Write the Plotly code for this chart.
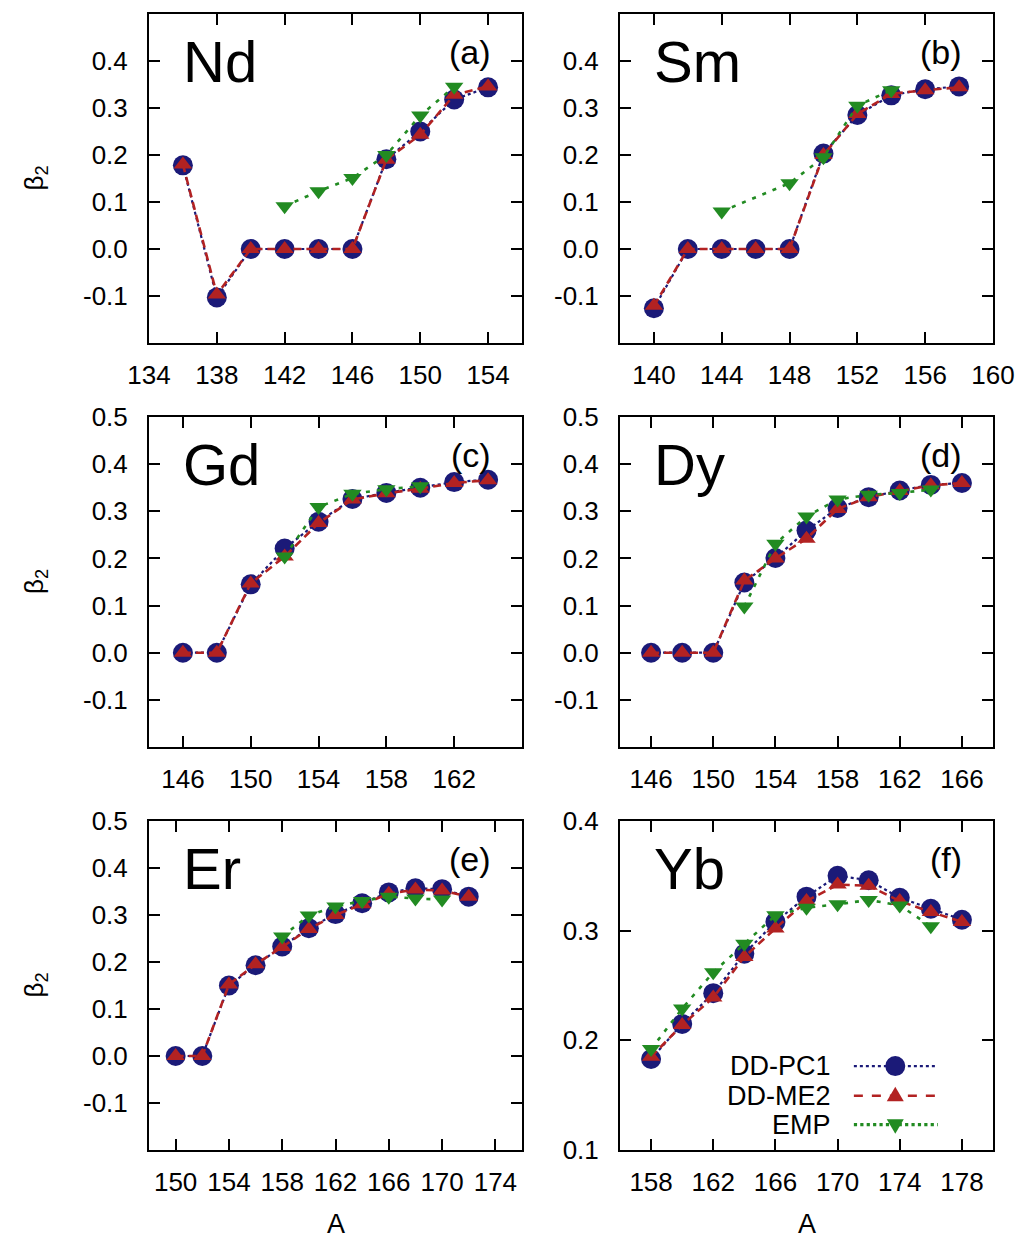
import plotly.graph_objects as go

# ---------------- data ----------------
nd_A = [136, 138, 140, 142, 144, 146, 148, 150, 152, 154]
nd_pc1 = [0.178, -0.103, 0.0, 0.0, 0.0, 0.0, 0.191, 0.250, 0.318, 0.344]
nd_me2 = [0.180, -0.097, 0.0, 0.0, 0.0, 0.0, 0.190, 0.243, 0.328, 0.346]
nd_emp_A = [142, 144, 146, 148, 150, 152]
nd_emp = [0.091, 0.123, 0.151, 0.200, 0.284, 0.345]

sm_A = [140, 142, 144, 146, 148, 150, 152, 154, 156, 158]
sm_pc1 = [-0.126, 0.0, 0.0, 0.0, 0.0, 0.203, 0.285, 0.327, 0.340, 0.346]
sm_me2 = [-0.121, 0.0, 0.0, 0.0, 0.0, 0.200, 0.287, 0.330, 0.338, 0.344]
sm_emp_A = [144, 148, 150, 152, 154]
sm_emp = [0.080, 0.140, 0.195, 0.305, 0.338]

gd_A = [146, 148, 150, 152, 154, 156, 158, 160, 162, 164]
gd_pc1 = [0.0, 0.0, 0.145, 0.221, 0.278, 0.326, 0.339, 0.350, 0.362, 0.367]
gd_me2 = [0.0, 0.0, 0.147, 0.204, 0.275, 0.325, 0.338, 0.348, 0.360, 0.366]
gd_emp_A = [152, 154, 156, 158, 160]
gd_emp = [0.204, 0.309, 0.337, 0.347, 0.353]

dy_A = [146, 148, 150, 152, 154, 156, 158, 160, 162, 164, 166]
dy_pc1 = [0.0, 0.0, 0.0, 0.149, 0.201, 0.259, 0.307, 0.330, 0.344, 0.356, 0.360]
dy_me2 = [0.0, 0.0, 0.0, 0.153, 0.200, 0.242, 0.305, 0.330, 0.343, 0.355, 0.360]
dy_emp_A = [152, 154, 156, 158, 160, 162, 164]
dy_emp = [0.098, 0.231, 0.289, 0.325, 0.335, 0.339, 0.346]

er_A = [150, 152, 154, 156, 158, 160, 162, 164, 166, 168, 170, 172]
er_pc1 = [0.0, 0.0, 0.150, 0.193, 0.233, 0.272, 0.302, 0.325, 0.348, 0.357, 0.355, 0.339]
er_me2 = [0.0, 0.0, 0.152, 0.195, 0.232, 0.270, 0.300, 0.323, 0.345, 0.354, 0.352, 0.339]
er_emp_A = [158, 160, 162, 164, 166, 168, 170]
er_emp = [0.254, 0.299, 0.318, 0.330, 0.339, 0.335, 0.333]

yb_A = [158, 160, 162, 164, 166, 168, 170, 172, 174, 176, 178]
yb_pc1 = [0.183, 0.215, 0.243, 0.279, 0.308, 0.331, 0.350, 0.346, 0.330, 0.320, 0.310]
yb_me2 = [0.185, 0.214, 0.239, 0.276, 0.302, 0.327, 0.342, 0.341, 0.327, 0.317, 0.308]
yb_emp_A = [158, 160, 162, 164, 166, 168, 170, 172, 174, 176]
yb_emp = [0.192, 0.229, 0.262, 0.288, 0.314, 0.321, 0.324, 0.328, 0.323, 0.304]

elements = ["Nd", "Sm", "Gd", "Dy", "Er", "Yb"]
panel_tags = ["(a)", "(b)", "(c)", "(d)", "(e)", "(f)"]
series_names = ["DD-PC1", "DD-ME2", "EMP"]

x_ranges = [[134, 156], [138, 160], [144, 166], [144, 168], [148, 176], [156, 180]]
x_ticks = [[134, 138, 142, 146, 150, 154], [140, 144, 148, 152, 156, 160],
           [146, 150, 154, 158, 162], [146, 150, 154, 158, 162, 166],
           [150, 154, 158, 162, 166, 170, 174], [158, 162, 166, 170, 174, 178]]
y_ranges = [[-0.2, 0.5]] * 5 + [[0.1, 0.4]]
y_ticks = [[-0.1, 0.0, 0.1, 0.2, 0.3, 0.4],
           [-0.1, 0.0, 0.1, 0.2, 0.3, 0.4, 0.5],
           [-0.1, 0.0, 0.1, 0.2, 0.3, 0.4, 0.5],
           [-0.1, 0.0, 0.1, 0.2, 0.3, 0.4, 0.5],
           [-0.1, 0.0, 0.1, 0.2, 0.3, 0.4, 0.5],
           [0.1, 0.2, 0.3, 0.4]]

panels = [
    (nd_A, nd_pc1, nd_me2, nd_emp_A, nd_emp),
    (sm_A, sm_pc1, sm_me2, sm_emp_A, sm_emp),
    (gd_A, gd_pc1, gd_me2, gd_emp_A, gd_emp),
    (dy_A, dy_pc1, dy_me2, dy_emp_A, dy_emp),
    (er_A, er_pc1, er_me2, er_emp_A, er_emp),
    (yb_A, yb_pc1, yb_me2, yb_emp_A, yb_emp),
]

# ---------------- style ----------------
W, H = 1024, 1243
OFF = 8  # page body margin
BLUE = "#1b1a78"
RED = "#b22222"
GREEN = "#228b22"
FONT = "Liberation Sans, Arial, sans-serif"


def px_x(p):
    return (p - OFF) / W


def px_y(p):
    return 1 - (p - OFF) / H


col_px = [(149, 522), (620, 993)]
row_px = [(14, 343), (417, 747), (821, 1150)]

fig = go.Figure()

for i, (A, pc1, me2, eA, emp) in enumerate(panels):
    n = i + 1
    xa = "x" if n == 1 else f"x{n}"
    ya = "y" if n == 1 else f"y{n}"
    fig.add_trace(go.Scatter(
        x=A, y=pc1, mode="lines+markers", name=series_names[0], xaxis=xa, yaxis=ya,
        line=dict(color=BLUE, width=2.2, dash="dot"),
        marker=dict(symbol="circle", size=20, color=BLUE), showlegend=False))
    fig.add_trace(go.Scatter(
        x=A, y=me2, mode="lines+markers", name=series_names[1], xaxis=xa, yaxis=ya,
        line=dict(color=RED, width=2.6, dash="8px,5px"),
        marker=dict(symbol="triangle-up", size=16, color=RED), showlegend=False))
    fig.add_trace(go.Scatter(
        x=eA, y=emp, mode="lines+markers", name=series_names[2], xaxis=xa, yaxis=ya,
        line=dict(color=GREEN, width=2.6, dash="4px,7px"),
        marker=dict(symbol="triangle-down", size=16, color=GREEN), showlegend=False))

    r, c = divmod(i, 2)
    x0, x1 = col_px[c]
    t, b = row_px[r]
    xkey = "xaxis" if n == 1 else f"xaxis{n}"
    ykey = "yaxis" if n == 1 else f"yaxis{n}"
    common = dict(showline=True, mirror="allticks", linecolor="black", linewidth=2,
                  ticks="inside", ticklen=11, tickwidth=2, tickcolor="black",
                  showgrid=False, zeroline=False, automargin=False,
                  tickfont=dict(family=FONT, size=26, color="black"))
    fig.update_layout(**{
        xkey: dict(domain=[px_x(x0), px_x(x1)], range=x_ranges[i], tickvals=x_ticks[i],
                   anchor=ya, ticklabelstandoff=8, **common),
        ykey: dict(domain=[px_y(b), px_y(t)], range=y_ranges[i], tickvals=y_ticks[i],
                   ticktext=[f"{v:.1f}" for v in y_ticks[i]], anchor=xa,
                   ticklabelstandoff=14, **common),
    })
    xd = f"{xa} domain"
    yd = f"{ya} domain"
    fig.add_annotation(text=elements[i], xref=xd, yref=yd, x=0.085, y=0.855,
                       xanchor="left", yanchor="middle", showarrow=False,
                       font=dict(family=FONT, size=58, color="black"))
    fig.add_annotation(text=panel_tags[i], xref=xd, yref=yd, x=0.922, y=0.885,
                       xanchor="right", yanchor="middle", showarrow=False,
                       font=dict(family=FONT, size=34, color="black"))

# y-axis labels
for r, (t, b) in enumerate(row_px):
    fig.add_annotation(text="β<sub>2</sub>", xref="paper", yref="paper",
                       x=px_x(35), y=px_y((t + b) / 2), textangle=-90,
                       xanchor="center", yanchor="middle", showarrow=False,
                       font=dict(family=FONT, size=26, color="black"))
# x-axis labels
for xd in ["x5 domain", "x6 domain"]:
    fig.add_annotation(text="A", xref=xd, yref="paper", x=0.5, y=px_y(1224),
                       xanchor="center", yanchor="middle", showarrow=False,
                       font=dict(family=FONT, size=27, color="black"))

# legend (gnuplot style: text, then sample line with marker) inside panel (f)
leg_rows = [0.255, 0.165, 0.077]
leg_text_x, leg_l0, leg_l1, leg_m = 0.572, 0.627, 0.852, 0.738
leg_styles = [(BLUE, 2.2, "dot"), (RED, 2.6, "dash"), (GREEN, 3.2, "dot")]
for k, yv in enumerate(leg_rows):
    fig.add_annotation(text=series_names[k], xref="x6 domain", yref="y6 domain",
                       x=leg_text_x, y=yv, xanchor="right", yanchor="middle",
                       showarrow=False, font=dict(family=FONT, size=27, color="black"))
    colr, lw, ds = leg_styles[k]
    fig.add_shape(type="line", xref="x6 domain", yref="y6 domain",
                  x0=leg_l0, x1=leg_l1, y0=yv, y1=yv,
                  line=dict(color=colr, width=lw, dash=ds))
    common_shape = dict(xref="x6 domain", yref="y6 domain", xsizemode="pixel",
                        ysizemode="pixel", xanchor=leg_m, yanchor=yv,
                        fillcolor=colr, line=dict(width=0))
    if k == 0:
        fig.add_shape(type="circle", x0=-10, x1=10, y0=-10, y1=10, **common_shape)
    elif k == 1:
        fig.add_shape(type="path", path="M -8.5,-5.5 L 8.5,-5.5 L 0,9 Z", **common_shape)
    else:
        fig.add_shape(type="path", path="M -8.5,5.5 L 8.5,5.5 L 0,-9 Z", **common_shape)

fig.update_layout(width=W, height=H, margin=dict(l=0, r=0, t=0, b=0, autoexpand=False),
                  paper_bgcolor="white", plot_bgcolor="white", showlegend=False)

fig.write_html("out.html")
